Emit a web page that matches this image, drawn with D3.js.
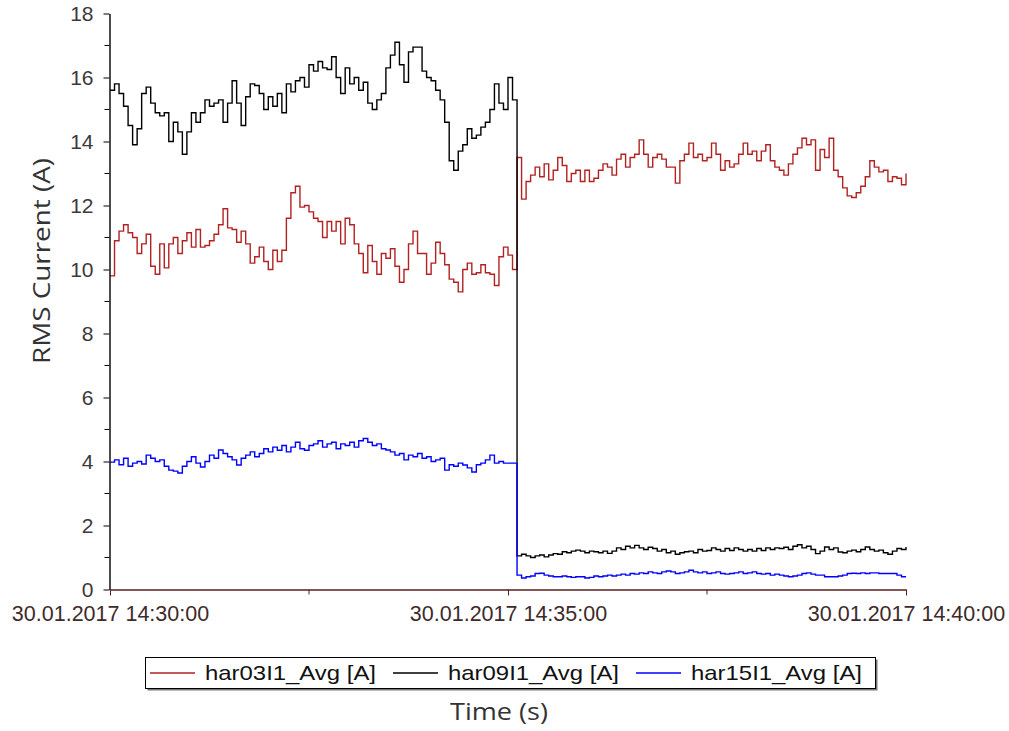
<!DOCTYPE html>
<html>
<head>
<meta charset="utf-8">
<script src="https://cdn.jsdelivr.net/npm/d3@7"></script>
<style>
  html, body { margin: 0; padding: 0; background: #fff; }
  svg { display: block; }
</style>
</head>
<body>
<svg id="chart" width="1009" height="731"></svg>
<script>
// Harmonic RMS currents, phase L1, 30.01.2017 14:30:00 – 14:40:00
const startTime = new Date(2017, 0, 30, 14, 30, 0);
const endTime = new Date(2017, 0, 30, 14, 40, 0);
const sampleCount = 177;                 // samples spread evenly over the 10 minutes

const har03 = [
  9.8, 10.9, 11.2, 11.4, 11.15, 11.0, 10.5, 10.8, 11.1, 10.1,
  9.85, 10.8, 10.05, 10.8, 11.0, 10.5, 10.9, 11.15, 10.7, 11.25,
  10.7, 10.75, 10.9, 11.1, 11.4, 11.9, 11.3, 11.25, 10.85, 11.2,
  10.8, 10.2, 10.4, 10.7, 10.25, 10.0, 10.6, 10.25, 10.6, 11.6,
  12.4, 12.6, 11.95, 12.0, 11.8, 11.6, 11.5, 11.0, 11.5, 11.2,
  11.5, 10.8, 11.6, 11.4, 10.8, 10.5, 9.9, 10.75, 10.25, 9.85,
  10.5, 10.35, 10.65, 10.1, 9.6, 10.0, 10.8, 11.2, 10.5, 10.5,
  9.85, 10.2, 10.85, 10.5, 10.15, 9.7, 9.6, 9.3, 10.0, 10.2,
  9.85, 9.9, 10.15, 9.9, 9.85, 9.5, 10.4, 10.7, 10.45, 10.0,
  13.5, 12.2, 12.75, 12.95, 13.2, 12.9, 13.3, 12.8, 13.1, 13.5,
  13.25, 12.75, 13.0, 13.1, 12.75, 13.1, 12.75, 12.85, 13.1, 13.3,
  13.2, 12.95, 13.45, 13.6, 13.2, 13.5, 13.6, 14.05, 13.6, 13.2,
  13.5, 13.6, 13.45, 13.2, 13.2, 12.7, 13.4, 13.6, 13.95, 13.5,
  13.6, 13.4, 13.5, 13.95, 13.6, 13.1, 13.4, 13.2, 13.3, 13.6,
  13.95, 13.6, 13.7, 13.4, 13.7, 13.9, 13.4, 13.2, 13.1, 12.95,
  13.3, 13.6, 13.8, 14.1, 13.9, 14.05, 13.1, 13.75, 13.5, 14.1,
  13.1, 12.9, 12.55, 12.3, 12.25, 12.4, 12.6, 12.9, 13.4, 13.2,
  13.05, 13.1, 12.75, 12.9, 12.85, 12.65, 13.0
];

const har09 = [
  15.6, 15.8, 15.5, 15.1, 14.5, 13.9, 14.4, 15.5, 15.7, 15.2,
  14.9, 14.8, 14.9, 14.0, 14.6, 14.3, 13.6, 14.3, 14.9, 14.6,
  14.9, 15.3, 15.1, 15.2, 15.3, 14.6, 15.2, 15.9, 15.2, 14.5,
  15.4, 15.8, 15.75, 15.5, 15.0, 15.4, 15.1, 15.5, 14.9, 15.8,
  15.55, 15.9, 16.0, 15.7, 16.4, 16.2, 16.5, 16.3, 16.25, 16.65,
  16.0, 15.5, 16.3, 15.8, 16.0, 15.6, 15.85, 15.2, 15.0, 15.3,
  15.5, 16.3, 16.7, 17.1, 16.4, 15.85, 16.8, 16.95, 16.95, 16.2,
  16.0, 15.9, 15.6, 15.3, 14.6, 13.4, 13.1, 13.7, 13.9, 14.4,
  14.1, 14.2, 14.45, 14.6, 15.0, 15.8, 15.2, 15.0, 16.0, 15.3,
  1.05, 1.1, 1.05, 1.0, 1.05, 1.08, 1.02, 1.08, 1.12, 1.1,
  1.18, 1.15, 1.2, 1.23, 1.2, 1.15, 1.2, 1.18, 1.15, 1.2,
  1.13, 1.2, 1.3, 1.25, 1.35, 1.3, 1.38, 1.3, 1.25, 1.32,
  1.28, 1.2, 1.25, 1.15, 1.2, 1.1, 1.15, 1.18, 1.2, 1.15,
  1.25, 1.2, 1.22, 1.3, 1.25, 1.2, 1.28, 1.22, 1.3, 1.25,
  1.2, 1.25, 1.2, 1.28, 1.22, 1.3, 1.25, 1.3, 1.28, 1.32,
  1.25, 1.35, 1.4, 1.3, 1.35, 1.25, 1.12, 1.2, 1.33, 1.25,
  1.3, 1.17, 1.15, 1.2, 1.23, 1.18, 1.25, 1.33, 1.25, 1.2,
  1.23, 1.15, 1.1, 1.2, 1.28, 1.25, 1.33
];

const har15 = [
  3.98, 4.05, 3.9, 4.1, 3.85, 3.95, 4.0, 3.92, 4.2, 4.1,
  4.0, 4.05, 3.85, 3.73, 3.7, 3.64, 3.85, 4.0, 4.15, 3.95,
  3.83, 4.0, 4.2, 4.1, 4.36, 4.25, 4.15, 4.05, 3.89, 4.1,
  4.2, 4.3, 4.15, 4.25, 4.4, 4.3, 4.45, 4.35, 4.5, 4.3,
  4.45, 4.6, 4.4, 4.35, 4.5, 4.55, 4.65, 4.45, 4.55, 4.6,
  4.4, 4.55, 4.5, 4.6, 4.45, 4.65, 4.72, 4.6, 4.5, 4.55,
  4.4, 4.36, 4.3, 4.2, 4.25, 4.05, 4.2, 4.15, 4.25, 4.1,
  4.15, 4.0, 4.05, 4.1, 3.73, 3.9, 3.85, 3.95, 3.89, 3.8,
  3.67, 3.9, 3.95, 4.05, 4.2, 3.95, 4.0, 3.95, 3.95, 3.95,
  0.45, 0.36, 0.4, 0.42, 0.5, 0.51, 0.45, 0.42, 0.4, 0.4,
  0.42, 0.4, 0.38, 0.4, 0.4, 0.36, 0.38, 0.42, 0.4, 0.42,
  0.45, 0.42, 0.45, 0.48, 0.45, 0.5, 0.48, 0.52, 0.5, 0.55,
  0.52, 0.5, 0.55, 0.58, 0.55, 0.5, 0.52, 0.55, 0.6, 0.55,
  0.52, 0.55, 0.5, 0.52, 0.55, 0.5, 0.48, 0.5, 0.52, 0.55,
  0.5, 0.52, 0.55, 0.5, 0.48, 0.5, 0.45, 0.48, 0.45, 0.42,
  0.4, 0.42, 0.45, 0.5, 0.52, 0.48, 0.45, 0.45, 0.4, 0.4,
  0.4, 0.42, 0.45, 0.5, 0.51, 0.5, 0.52, 0.5, 0.52, 0.52,
  0.5, 0.5, 0.5, 0.5, 0.45, 0.4, 0.4
];

const seriesNames = ["har03I1_Avg [A]", "har09I1_Avg [A]", "har15I1_Avg [A]"];
const seriesColors = ["#b22222", "#000000", "#0000ff"];
const yTicks = [0, 2, 4, 6, 8, 10, 12, 14, 16, 18];
const yMinorTicks = [1, 3, 5, 7, 9, 11, 13, 15, 17];
const xTickLabels = ["30.01.2017 14:30:00", "30.01.2017 14:35:00", "30.01.2017 14:40:00"];

const svg = d3.select("#chart");
const plot = { left: 110, right: 906, top: 13.5, bottom: 589.5 };

const x = d3.scaleTime().domain([startTime, endTime]).range([plot.left, plot.right]);
const y = d3.scaleLinear().domain([0, 18]).range([plot.bottom, plot.top]);

const step = (endTime - startTime) / (sampleCount - 1);
const times = d3.range(sampleCount).map(i => new Date(+startTime + i * step));

// ---- traces (red, black, blue on top) ----
const line = d3.line()
  .x(d => x(d[0]))
  .y(d => y(d[1]))
  .curve(d3.curveStepAfter);

[har03, har09, har15].forEach((vals, k) => {
  svg.append("path")
    .datum(vals.map((v, i) => [times[i], v]))
    .attr("fill", "none")
    .attr("stroke", seriesColors[k])
    .attr("stroke-width", 1.4)
    .attr("d", line);
});

// ---- y axis ----
const yAxis = svg.append("g").attr("transform", `translate(${plot.left - 0.5},0)`);
yAxis.call(d3.axisLeft(y).tickValues(yTicks).tickSize(6).tickSizeOuter(0).tickFormat(d3.format("d")));
yAxis.append("g").selectAll("line").data(yMinorTicks).join("line")
  .attr("x1", -5).attr("x2", 0)
  .attr("y1", d => y(d)).attr("y2", d => y(d))
  .attr("stroke", "#000");
yAxis.select(".domain").attr("stroke", "#000").attr("stroke-width", 1.4);
yAxis.selectAll(".tick line").attr("stroke", "#000");
yAxis.selectAll(".tick text")
  .attr("x", -16)
  .attr("fill", "#3a3a3a")
  .style("font-family", "'Liberation Sans', Arial, sans-serif")
  .style("font-size", "21px");

// ---- x axis ----
const xMajor = d3.timeMinute.every(5).range(startTime, new Date(+endTime + 1));
const xMinor = [2.5, 7.5].map(m => new Date(+startTime + m * 60000));
const xAxis = svg.append("g").attr("transform", `translate(0,${plot.bottom})`);
xAxis.call(d3.axisBottom(x).tickValues(xMajor).tickSize(6).tickSizeOuter(0)
  .tickFormat((d, i) => xTickLabels[i]));
xAxis.append("g").selectAll("line").data(xMinor).join("line")
  .attr("x1", d => x(d)).attr("x2", d => x(d))
  .attr("y1", 0).attr("y2", 5)
  .attr("stroke", "#5a1c1c");
xAxis.select(".domain").attr("stroke", "#5a1c1c").attr("stroke-width", 1.3);
xAxis.selectAll(".tick line").attr("stroke", "#5a1c1c");
xAxis.selectAll(".tick text")
  .attr("y", 16)
  .attr("fill", "#3e2a2a")
  .style("font-family", "'Liberation Sans', Arial, sans-serif")
  .style("font-size", "21.5px");

// ---- axis titles ----
svg.append("text")
  .attr("transform", `translate(50,261) rotate(-90)`)
  .attr("text-anchor", "middle")
  .attr("fill", "#333")
  .attr("textLength", 206)
  .attr("lengthAdjust", "spacingAndGlyphs")
  .style("font-family", "'Open Sans', 'Noto Sans', sans-serif")
  .style("font-size", "24px")
  .text("RMS Current (A)");

svg.append("text")
  .attr("x", 499)
  .attr("y", 720)
  .attr("text-anchor", "middle")
  .attr("fill", "#333")
  .attr("textLength", 98)
  .attr("lengthAdjust", "spacingAndGlyphs")
  .style("font-family", "'Open Sans', 'Noto Sans', sans-serif")
  .style("font-size", "24px")
  .text("Time (s)");

// ---- legend ----
const legend = svg.append("g");
const box = { x: 145.5, y: 657.5, w: 730, h: 31 };
legend.append("rect")
  .attr("x", box.x + 2).attr("y", box.y + 2)
  .attr("width", box.w).attr("height", box.h)
  .attr("fill", "#777");
legend.append("rect")
  .attr("x", box.x).attr("y", box.y)
  .attr("width", box.w).attr("height", box.h)
  .attr("fill", "#fff").attr("stroke", "#000");

const legendX = [150, 393, 636];
seriesNames.forEach((name, k) => {
  const g = legend.append("g").attr("transform", `translate(${legendX[k]},${box.y + box.h / 2})`);
  g.append("line").attr("x1", 0).attr("x2", 45).attr("y1", 0).attr("y2", 0)
    .attr("stroke", seriesColors[k]).attr("stroke-width", 1.4);
  g.append("text")
    .attr("x", 55).attr("y", 0).attr("dy", "0.35em")
    .attr("fill", "#111")
    .attr("textLength", 171)
    .attr("lengthAdjust", "spacingAndGlyphs")
    .style("font-family", "'Liberation Sans', Arial, sans-serif")
    .style("font-size", "21px")
    .text(name);
});
</script>
</body>
</html>
